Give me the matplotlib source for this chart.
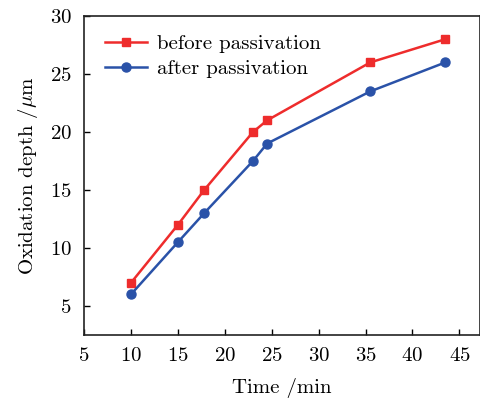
import matplotlib
matplotlib.use("Agg")
import matplotlib.pyplot as plt

# data
time_min = [10, 15, 17.8, 23, 24.5, 35.5, 43.5]
depth_before = [7, 12, 15, 20, 21, 26, 28]
depth_after = [6, 10.5, 13, 17.5, 19, 23.5, 26]
xticks = [5, 10, 15, 20, 25, 30, 35, 40, 45]
yticks = [5, 10, 15, 20, 25, 30]

plt.rcParams['font.family'] = ['cmr10', 'DejaVu Serif']
plt.rcParams['mathtext.fontset'] = 'cm'
plt.rcParams['axes.formatter.use_mathtext'] = True
plt.rcParams['font.size'] = 15

fig = plt.figure(figsize=(4.81, 4.01), dpi=100)
ax = fig.add_axes([0.175, 0.165, 0.823, 0.795])

ax.plot(time_min, depth_before, color="#ee2c2c", marker="s", ms=6, lw=1.8,
        label="before passivation")
ax.plot(time_min, depth_after, color="#2a52a8", marker="o", ms=6.5, lw=1.8,
        label="after passivation")

ax.set_xlim(5, 47.2)
ax.set_ylim(2.5, 30)
ax.set_xticks(xticks)
ax.set_yticks(yticks)
ax.tick_params(direction="in", length=4, width=1, pad=9)
for s in ax.spines.values():
    s.set_linewidth(1.2)
    s.set_color("#222222")

ax.set_xlabel("Time /min", labelpad=9)
ax.set_ylabel(r"Oxidation depth /$\mu$m", labelpad=7)

ax.legend(loc="upper left", frameon=False, handlelength=2.0, handletextpad=0.5,
          borderaxespad=0.5, labelspacing=0.3, bbox_to_anchor=(0.005, 1.0))

fig.savefig("out.png", dpi=100)
